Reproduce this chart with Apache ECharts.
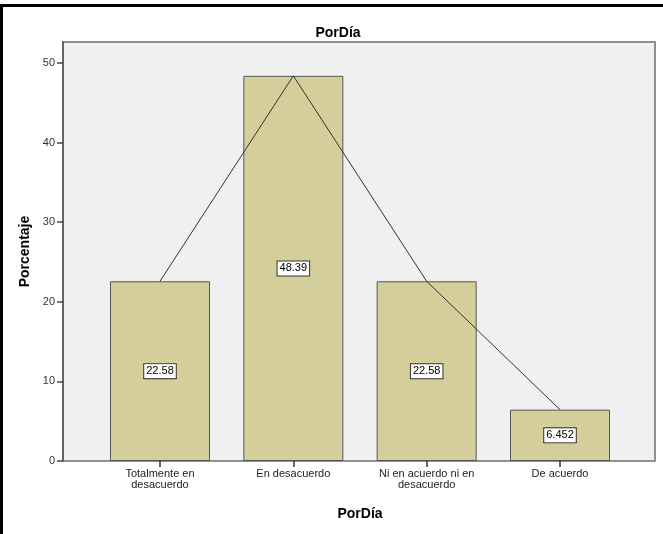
<!DOCTYPE html>
<html>
<head>
<meta charset="utf-8">
<script src="https://cdn.jsdelivr.net/npm/echarts@6/dist/echarts.min.js"></script>
<style>
  html, body { margin: 0; padding: 0; background: #ffffff; }
  #chart { width: 663px; height: 534px; }
</style>
</head>
<body>
<div id="chart"></div>
<script>
// Response categories and their percentages
const categories = ['Totalmente en\ndesacuerdo', 'En desacuerdo', 'Ni en acuerdo ni en\ndesacuerdo', 'De acuerdo'];
const percentages = [22.58, 48.39, 22.58, 6.452];
const yTicks = [0, 10, 20, 30, 40, 50];

const FONT = 'Arial, "Liberation Sans", sans-serif';
const Y_MAX = 52.64;

const chart = echarts.init(document.getElementById('chart'), null, { renderer: 'canvas' });

chart.setOption({
  animation: false,
  backgroundColor: '#ffffff',
  title: {
    text: 'PorDía',
    left: 333,
    textAlign: 'center',
    top: 21,
    textStyle: { fontFamily: FONT, fontSize: 14, fontWeight: 'bold', color: '#000' }
  },
  graphic: [{
    type: 'rect',
    shape: { x: 1.5, y: 5.5, width: 720, height: 600 },
    style: { fill: null, stroke: '#000', lineWidth: 3 },
    silent: true
  }],
  grid: [
    // category band that holds the bars
    { left: 93.33, right: 36.33, top: 42, bottom: 73 },
    // framed plot area with the percentage scale
    { left: 63, right: 8, top: 42, bottom: 73, show: true,
      backgroundColor: '#F0F0F0', borderColor: '#6e6e6e', borderWidth: 1.5, z: -1 }
  ],
  xAxis: [
    {
      type: 'category', gridIndex: 0, data: categories,
      name: 'PorDía', nameLocation: 'middle', nameGap: 46,
      nameTextStyle: { fontFamily: FONT, fontSize: 14, fontWeight: 'bold', color: '#000' },
      axisLine: { show: false },
      axisTick: { show: true, alignWithLabel: true, length: 6, lineStyle: { color: '#333', width: 1.5 } },
      axisLabel: { fontFamily: FONT, fontSize: 11, color: '#222', margin: 7, lineHeight: 11, interval: 0 }
    },
    { type: 'value', gridIndex: 1, show: false, min: 0, max: 1 }
  ],
  yAxis: [
    { type: 'value', gridIndex: 0, min: 0, max: Y_MAX, show: false },
    {
      type: 'value', gridIndex: 1, min: 0, max: Y_MAX, interval: 10,
      name: 'Porcentaje', nameLocation: 'middle', nameGap: 24,
      nameTextStyle: { fontFamily: FONT, fontSize: 14, fontWeight: 'bold', color: '#000' },
      axisLine: { show: true, lineStyle: { color: '#555', width: 1.5 } },
      axisTick: { show: true, length: 6, lineStyle: { color: '#444', width: 1.5 } },
      splitLine: { show: false },
      axisLabel: {
        fontFamily: FONT, fontSize: 11, color: '#333', margin: 8,
        showMaxLabel: false,
        formatter: v => (yTicks.indexOf(v) >= 0 ? String(v) : '')
      }
    }
  ],
  series: [
    {
      type: 'bar',
      xAxisIndex: 0, yAxisIndex: 0,
      data: percentages,
      barWidth: 100,
      itemStyle: { color: '#D3CE9A', borderColor: '#555', borderWidth: 1 },
      label: {
        show: true, position: 'inside',
        fontFamily: FONT, fontSize: 11, color: '#000',
        backgroundColor: '#fff', borderColor: '#333', borderWidth: 1,
        padding: [2, 2, 1, 2]
      },
      z: 2
    },
    {
      type: 'line',
      xAxisIndex: 0, yAxisIndex: 0,
      data: percentages,
      symbol: 'none',
      lineStyle: { color: '#333', width: 1 },
      z: 3
    }
  ]
});
</script>
</body>
</html>
